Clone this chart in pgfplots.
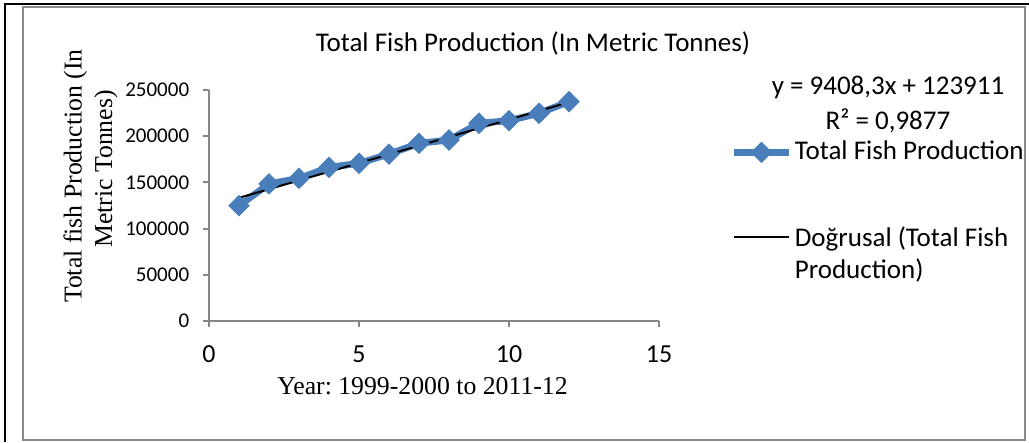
\documentclass[border=0pt]{standalone}
\usepackage{pgfplots}
\pgfplotsset{compat=1.18}
\usepackage{fontspec}
\setmainfont{Carlito}
\newfontfamily\timesfont{Liberation Serif}
\definecolor{fishblue}{RGB}{74,126,187}
\definecolor{framegray}{RGB}{137,137,137}
\definecolor{axgray}{RGB}{134,134,134}
\frenchspacing

\begin{document}
\begin{tikzpicture}
% pixel grid of the reference: 1px = 0.4pt, y measured downward
\begin{scope}[x=0.4pt,y=-0.4pt,yshift=176.8pt]
  \path[use as bounding box] (0,0) rectangle (1029,442);
  \draw[framegray,line width=0.9pt] (23,7) rectangle (1025,440);
  \draw[black,line width=1pt] (5,442) -- (5,4) -- (1029,4);
  \node[font=\fontsize{10.8}{13}\selectfont] at (533,43) {Total Fish Production (In Metric Tonnes)};
  \node[font=\fontsize{10.8}{13}\selectfont] at (888,87) {y = 9408,3x + 123911};
  \node[font=\fontsize{10.8}{13}\selectfont] at (888,121) {R² = 0,9877};
\end{scope}

\begin{axis}[
  at={(83.6pt,48.4pt)}, anchor=south west,
  scale only axis, width=180pt, height=92.4pt,
  xmin=0, xmax=15, ymin=0, ymax=250000,
  xtick={0,5,10,15}, ytick={0,50000,100000,150000,200000,250000},
  axis x line*=bottom, axis y line*=left,
  axis line style={axgray,line width=0.8pt,-},
  tick style={axgray,line width=0.8pt},
  tick align=outside, major tick length=2.4pt,
  minor tick num=0,
  /pgf/number format/assume math mode=true,
  scaled y ticks=false,
  yticklabel style={/pgf/number format/fixed,/pgf/number format/1000 sep={},
    font=\fontsize{8.4}{10}\selectfont, xshift=-2pt},
  xticklabel style={font=\fontsize{10.4}{12}\selectfont, yshift=-4pt},
  xlabel={Year: 1999-2000 to 2011-12},
  xlabel style={font=\timesfont\fontsize{10.3}{12}\selectfont, xshift=-4.6pt, yshift=1pt},
  ylabel={Total fish Production (In\hspace*{0.55em}\\Metric Tonnes)},
  ylabel style={font=\timesfont\fontsize{10.3}{12.2}\selectfont, align=center,
    at={(rel axis cs:-0.263,0.658)}, anchor=center},
  clip=false,
  legend cell align=left,
  legend style={at={(rel axis cs:1.158,0.792)}, anchor=north west, draw=none, fill=none,
    inner sep=0pt, row sep=22pt, font=\fontsize{10.8}{13}\selectfont,
    nodes={inner sep=1pt}},
  legend image code/.code={\draw[mark repeat=2,mark phase=2,#1]
    plot coordinates {(0pt,0pt)(11pt,0pt)(22pt,0pt)};},
]
\addplot[fishblue, line width=2.7pt, mark=square*,
  mark options={rotate=45, fill=fishblue, draw=fishblue, line width=0.5pt}, mark size=2.8pt]
  coordinates {
  (1,124800)(2,148500)(3,154400)(4,166300)(5,170700)(6,180700)
  (7,192300)(8,195900)(9,214000)(10,216800)(11,224800)(12,237400)};
\addlegendentry{Total Fish Production}
% Excel linear trend line y = 9408.3x + 123911
\addplot[black, line width=0.8pt] coordinates {(1,133319)(12,236811)};
\addlegendentry{\begin{tabular}[t]{@{}l@{}}Doğrusal (Total Fish\\Production)\end{tabular}}
\end{axis}
\end{tikzpicture}
\end{document}
